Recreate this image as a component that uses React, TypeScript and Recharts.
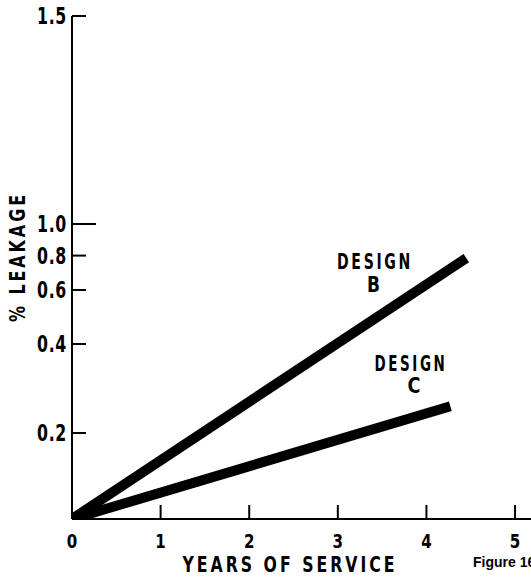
import React from 'react';
import { LineChart, Line, XAxis, YAxis, Customized } from 'recharts';

// ---- data ----
const xTicks = [0, 1, 2, 3, 4, 5];
const xTickLabels = ['0', '1', '2', '3', '4', '5'];
const yTicks = [0.2, 0.4, 0.6, 0.8, 1.0, 1.5];
const yTickLabels = ['0.2', '0.4', '0.6', '0.8', '1.0', '1.5'];
const designB = [
  { x: 0, y: 0 },
  { x: 4.45, y: 0.785 },
];
const designC = [
  { x: 0, y: 0 },
  { x: 4.27, y: 0.26 },
];

// The original figure's vertical axis is non-uniform; calibration of value -> fraction of axis height.
const Y_KNOTS = [0, 0.2, 0.4, 0.6, 0.8, 1.0, 1.5];
const Y_FRACS = [0, 86 / 503, 175 / 503, 229 / 503, 263.4 / 503, 295 / 503, 1];

function piecewiseScale(knots: number[], fracs: number[]): any {
  let dom = [knots[0], knots[knots.length - 1]];
  let rng = [0, 1];
  const frac = (v: number) => {
    const n = knots.length;
    let i = 0;
    if (v <= knots[0]) i = 0;
    else if (v >= knots[n - 1]) i = n - 2;
    else {
      while (i < n - 2 && v > knots[i + 1]) i++;
    }
    return fracs[i] + ((v - knots[i]) / (knots[i + 1] - knots[i])) * (fracs[i + 1] - fracs[i]);
  };
  const s: any = (v: number) => rng[0] + frac(Number(v)) * (rng[1] - rng[0]);
  s.domain = (d?: number[]) => {
    if (d === undefined) return dom.slice();
    dom = [...d];
    return s;
  };
  s.range = (r?: number[]) => {
    if (r === undefined) return rng.slice();
    rng = [...r];
    return s;
  };
  s.copy = () => {
    const c = piecewiseScale(knots, fracs);
    c.domain(dom);
    c.range(rng);
    return c;
  };
  s.ticks = () => knots.slice();
  s.tickFormat = () => (v: number) => String(v);
  s.invert = (p: number) => {
    const f = (p - rng[0]) / (rng[1] - rng[0]);
    for (let i = 0; i < knots.length - 1; i++) {
      if (f <= fracs[i + 1] || i === knots.length - 2) {
        return knots[i] + ((f - fracs[i]) / (fracs[i + 1] - fracs[i])) * (knots[i + 1] - knots[i]);
      }
    }
    return 0;
  };
  return s;
}

const yScale = piecewiseScale(Y_KNOTS, Y_FRACS);

const FONT = '"DejaVu Sans", sans-serif';

const YTick = (props: any) => {
  const { x, y, payload } = props;
  const idx = yTicks.indexOf(payload.value);
  const len = payload.value === 1 ? 24 : 14;
  return (
    <g>
      <line x1={x} x2={x + len} y1={y} y2={y} stroke="#000" strokeWidth={2} />
      <text
        x={x - 5}
        y={y}
        dy="0.36em"
        textAnchor="end"
        fontFamily={FONT}
        fontWeight="bold"
        fontSize={23}
        letterSpacing={1}
        textLength={30}
        lengthAdjust="spacingAndGlyphs"
        fill="#000"
      >
        {idx >= 0 ? yTickLabels[idx] : payload.value}
      </text>
    </g>
  );
};

const XTick = (props: any) => {
  const { x, y, payload } = props;
  const idx = xTicks.indexOf(payload.value);
  return (
    <g>
      {payload.value !== 0 && (
        <line x1={x} x2={x} y1={y} y2={y - 14} stroke="#000" strokeWidth={2} />
      )}
      <text
        x={x}
        y={y + 29}
        textAnchor="middle"
        fontFamily={FONT}
        fontWeight="bold"
        fontSize={19}
        textLength={10.5}
        lengthAdjust="spacingAndGlyphs"
        fill="#000"
      >
        {idx >= 0 ? xTickLabels[idx] : payload.value}
      </text>
    </g>
  );
};

const Annotations = () => (
  <g fontFamily={FONT} fontWeight="bold" fill="#000">
    <text
      x={17}
      y={257}
      transform="rotate(-90 17 257)"
      textAnchor="middle"
      dy="0.36em"
      fontSize={22}
      letterSpacing={4}
      textLength={130}
      lengthAdjust="spacingAndGlyphs"
    >
      % LEAKAGE
    </text>
    <text x={290} y={572} textAnchor="middle" fontSize={21} letterSpacing={4} textLength={215} lengthAdjust="spacingAndGlyphs">
      YEARS OF SERVICE
    </text>
    <text x={375} y={269} textAnchor="middle" fontSize={21} letterSpacing={4} textLength={76} lengthAdjust="spacingAndGlyphs">
      DESIGN
    </text>
    <text x={373.5} y={291.5} textAnchor="middle" fontSize={21} textLength={13} lengthAdjust="spacingAndGlyphs">
      B
    </text>
    <text x={411} y={371} textAnchor="middle" fontSize={21} letterSpacing={4} textLength={73} lengthAdjust="spacingAndGlyphs">
      DESIGN
    </text>
    <text x={414} y={393} textAnchor="middle" fontSize={21} textLength={13} lengthAdjust="spacingAndGlyphs">
      C
    </text>
    <text x={473} y={567} fontFamily='"Liberation Sans", Arial, sans-serif' fontWeight="bold" fontSize={14}>
      Figure 16
    </text>
  </g>
);

export default function App() {
  return (
    <div style={{ position: 'absolute', left: 0, top: 0, background: '#fff' }}>
      <LineChart width={531} height={579} margin={{ top: 16, right: 0, bottom: 0, left: 0 }}>
        <XAxis
          type="number"
          dataKey="x"
          domain={[0, 5.18]}
          ticks={xTicks}
          height={60}
          tickSize={0}
          tickMargin={0}
          tickLine={false}
          axisLine={{ stroke: '#000', strokeWidth: 2 }}
          tick={<XTick />}
          allowDataOverflow
        />
        <YAxis
          type="number"
          dataKey="y"
          domain={[0, 1.5]}
          scale={yScale}
          ticks={yTicks}
          width={72}
          tickSize={0}
          tickMargin={0}
          tickLine={false}
          axisLine={{ stroke: '#000', strokeWidth: 2 }}
          tick={<YTick />}
          interval={0}
          allowDataOverflow
        />
        <Line
          data={designB}
          dataKey="y"
          stroke="#000"
          strokeWidth={10}
          strokeLinecap="butt"
          dot={false}
          isAnimationActive={false}
        />
        <Line
          data={designC}
          dataKey="y"
          stroke="#000"
          strokeWidth={10}
          strokeLinecap="butt"
          dot={false}
          isAnimationActive={false}
        />
        <Customized component={<Annotations />} />
      </LineChart>
    </div>
  );
}
